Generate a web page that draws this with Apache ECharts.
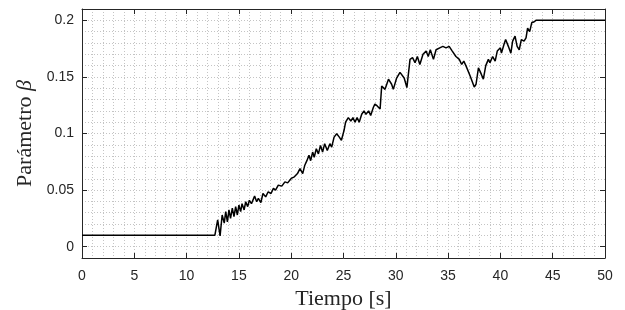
<!DOCTYPE html>
<html>
<head>
<meta charset="utf-8">
<script src="https://cdn.jsdelivr.net/npm/echarts@6/dist/echarts.min.js"></script>
<style>
  html, body { margin: 0; padding: 0; background: #fff; }
  #main { width: 625px; height: 310px; }
</style>
</head>
<body>
<div id="main"></div>
<script>
// tiempo [s] y parámetro beta
var tiempo = [0, 12.7, 12.97, 13.2, 13.4, 13.6, 13.74, 13.9, 14.05, 14.2, 14.37, 14.53, 14.69, 14.85, 15.0, 15.17,
  15.3, 15.5, 15.65, 15.84, 16.0, 16.2, 16.5, 16.7, 16.86, 17.1, 17.3, 17.56, 17.8, 18.07, 18.3, 18.5, 18.77, 19.1,
  19.4, 19.66, 20.0, 20.3, 20.6, 20.84, 21.1, 21.3, 21.5, 21.7, 21.86, 22.05, 22.2, 22.4, 22.6, 22.8, 23.0, 23.2,
  23.45, 23.7, 23.87, 24.1, 24.35, 24.6, 24.8, 25.05, 25.2, 25.46, 25.7, 25.9, 26.1, 26.3, 26.5, 26.74, 26.96, 27.15,
  27.4, 27.6, 27.85, 28.0, 28.2, 28.5, 28.65, 28.97, 29.3, 29.6, 29.76, 30.08, 30.4, 30.56, 30.8, 31.06, 31.36, 31.6,
  31.84, 32.06, 32.3, 32.6, 32.9, 33.1, 33.3, 33.6, 33.85, 34.2, 34.5, 34.8, 35.1, 35.4, 35.75, 36.07, 36.3, 36.5,
  36.7, 37.1, 37.5, 37.67, 37.9, 38.1, 38.37, 38.6, 38.85, 39.0, 39.26, 39.5, 39.7, 40.0, 40.1, 40.34, 40.5, 40.76,
  41.0, 41.17, 41.4, 41.6, 41.8, 42.0, 42.26, 42.45, 42.6, 42.8, 43.0, 43.2, 43.4, 50];
var beta = [0.01, 0.01, 0.0237, 0.0096, 0.028, 0.0208, 0.031, 0.022, 0.0325, 0.025, 0.034, 0.0266, 0.0354, 0.028,
  0.0368, 0.031, 0.038, 0.0325, 0.0397, 0.0354, 0.041, 0.038, 0.0447, 0.0397, 0.0427, 0.039, 0.047, 0.044, 0.0485,
  0.047, 0.0515, 0.05, 0.0544, 0.0535, 0.0573, 0.0564, 0.0603, 0.0617, 0.0646, 0.069, 0.0646, 0.072, 0.076, 0.0807,
  0.076, 0.0836, 0.079, 0.0866, 0.082, 0.0895, 0.0836, 0.091, 0.085, 0.091, 0.088, 0.0968, 0.0997, 0.0968, 0.094,
  0.1026, 0.11, 0.114, 0.111, 0.114, 0.11, 0.114, 0.11, 0.117, 0.12, 0.117, 0.12, 0.116, 0.123, 0.126, 0.1246,
  0.1216, 0.142, 0.139, 0.148, 0.1435, 0.139, 0.149, 0.154, 0.155, 0.149, 0.1406, 0.1655, 0.167, 0.1626, 0.168,
  0.161, 0.170, 0.1728, 0.168, 0.174, 0.1655, 0.174, 0.1757, 0.177, 0.1757, 0.177, 0.1728, 0.168, 0.1655, 0.161,
  0.164, 0.160, 0.151, 0.141, 0.1435, 0.158, 0.154, 0.148, 0.160, 0.1655, 0.1626, 0.168, 0.164, 0.1728, 0.1757,
  0.171, 0.1786, 0.183, 0.177, 0.171, 0.1816, 0.186, 0.177, 0.174, 0.183, 0.1816, 0.1845, 0.193, 0.190, 0.198,
  0.1985, 0.2, 0.2];
// marcas de los ejes
var xTicks = [0, 5, 10, 15, 20, 25, 30, 35, 40, 45, 50];
var yTicks = [0, 0.05, 0.1, 0.15, 0.2];

var datos = tiempo.map(function (t, i) { return [t, beta[i]]; });

var ejeColor = '#262626';
var rejilla = { show: true, lineStyle: { color: '#c4c4c4', width: 1, type: [1, 2] } };
var fuenteTicks = { fontFamily: 'Liberation Sans, Arial, sans-serif', fontSize: 14, color: ejeColor };
var serif = 'Liberation Serif, DejaVu Serif, serif';

// eje auxiliar solo para la rejilla (menor + mayor)
function ejeRejilla(pos, min, max, paso) {
  return {
    type: 'value', position: pos, min: min, max: max, interval: paso,
    axisLine: { show: false }, axisTick: { show: false }, axisLabel: { show: false },
    splitLine: rejilla
  };
}

var myChart = echarts.init(document.getElementById('main'), null, { renderer: 'canvas' });
myChart.setOption({
  animation: false,
  grid: { left: 82, right: 20, top: 9, bottom: 52, outerBoundsMode: 'none', containLabel: false },
  xAxis: [
    {
      type: 'value', position: 'bottom', min: 0, max: 50, interval: 5,
      name: 'Tiempo [s]', nameLocation: 'middle', nameGap: 27,
      nameTextStyle: { fontFamily: serif, fontSize: 22, color: ejeColor },
      axisLine: { show: true, onZero: false, lineStyle: { color: ejeColor, width: 1 } },
      axisTick: { show: true, inside: true, length: 5, lineStyle: { color: ejeColor } },
      axisLabel: Object.assign({ margin: 11 }, fuenteTicks),
      splitLine: { show: false }
    },
    {
      type: 'value', position: 'top', min: 0, max: 50, interval: 5,
      axisLine: { show: true, onZero: false, lineStyle: { color: ejeColor, width: 1 } },
      axisTick: { show: true, inside: true, length: 5, lineStyle: { color: ejeColor } },
      axisLabel: { show: false },
      splitLine: { show: false }
    },
    ejeRejilla('bottom', 0, 50, 1)
  ],
  yAxis: [
    {
      type: 'value', position: 'left', min: -0.01, max: 0.21, interval: 0.01,
      name: 'Parámetro {b|β}', nameLocation: 'middle', nameGap: 45,
      nameTextStyle: {
        fontFamily: serif, fontSize: 22, color: ejeColor,
        rich: { b: { fontFamily: serif, fontSize: 22, fontStyle: 'italic', color: ejeColor } }
      },
      axisLine: { show: true, onZero: false, lineStyle: { color: ejeColor, width: 1 } },
      axisTick: { show: true, inside: true, length: 5, customValues: yTicks, lineStyle: { color: ejeColor } },
      axisLabel: Object.assign({ margin: 8, customValues: yTicks }, fuenteTicks),
      splitLine: { show: false }
    },
    {
      type: 'value', position: 'right', min: -0.01, max: 0.21, interval: 0.01,
      axisLine: { show: true, onZero: false, lineStyle: { color: ejeColor, width: 1 } },
      axisTick: { show: true, inside: true, length: 5, customValues: yTicks, lineStyle: { color: ejeColor } },
      axisLabel: { show: false },
      splitLine: { show: false }
    },
    ejeRejilla('left', -0.01, 0.21, 0.01)
  ],
  series: [
    {
      type: 'line',
      data: datos,
      showSymbol: false,
      lineStyle: { color: '#000', width: 1.5 },
      z: 5
    }
  ]
});
</script>
</body>
</html>
